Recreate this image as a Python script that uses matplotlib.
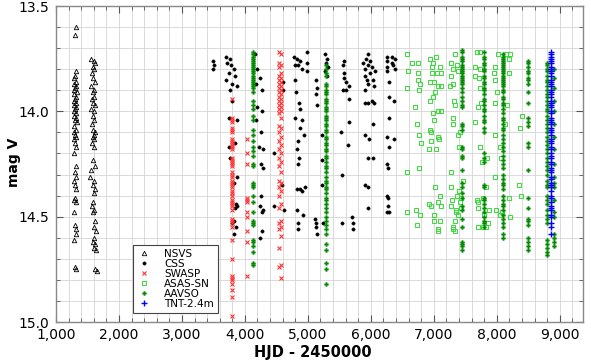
import matplotlib
matplotlib.use("Agg")
import matplotlib.pyplot as plt
from matplotlib.ticker import MultipleLocator, FuncFormatter

# ---------------- data (HJD - 2450000, V mag) ----------------
NSVS_HJD = [1310, 1300, 1320, 1300, 1290, 1310, 1280, 1320, 1300, 1290,
            1330, 1280, 1310, 1300, 1290, 1320, 1280, 1310, 1300, 1290,
            1320, 1280, 1310, 1300, 1330, 1290, 1310, 1280, 1300, 1320,
            1290, 1300, 1310, 1290, 1320, 1300, 1310, 1290, 1300, 1320,
            1300, 1290, 1310, 1290, 1300, 1320, 1310, 1290, 1300, 1310,
            1560, 1600, 1620, 1580, 1610, 1570, 1590, 1620, 1550, 1600,
            1580, 1610, 1570, 1590, 1620, 1560, 1600, 1580, 1610, 1570,
            1590, 1620, 1600, 1580, 1610, 1570, 1600, 1590, 1620, 1560,
            1540, 1600, 1580, 1620, 1600, 1590, 1570, 1610, 1580, 1620,
            1600, 1630, 1610, 1590, 1620, 1600, 1640, 1620, 1650]
NSVS_MAG = [13.60, 13.64, 13.81, 13.83, 13.84, 13.86, 13.87, 13.88, 13.89, 13.90,
            13.91, 13.92, 13.93, 13.94, 13.95, 13.96, 13.97, 13.98, 13.99, 14.00,
            14.01, 14.02, 14.03, 14.04, 14.05, 14.07, 14.09, 14.10, 14.11, 14.12,
            14.13, 14.15, 14.17, 14.20, 14.26, 14.29, 14.31, 14.33, 14.35, 14.37,
            14.41, 14.42, 14.43, 14.48, 14.54, 14.56, 14.58, 14.61, 14.74, 14.75,
            13.75, 13.76, 13.77, 13.79, 13.80, 13.82, 13.84, 13.86, 13.88, 13.90,
            13.91, 13.93, 13.94, 13.96, 13.97, 13.99, 14.00, 14.02, 14.04, 14.06,
            14.09, 14.10, 14.11, 14.12, 14.13, 14.15, 14.17, 14.23, 14.26, 14.28,
            14.31, 14.33, 14.35, 14.37, 14.39, 14.43, 14.45, 14.47, 14.48, 14.52,
            14.55, 14.57, 14.60, 14.62, 14.63, 14.65, 14.66, 14.75, 14.76]

CSS_HJD = [3500, 3510, 3500,
           3700, 3760, 3720, 3780, 3820, 3740, 3850, 3700, 3800, 3870,
           3760, 3800, 3740, 3880, 3850, 3740, 3760, 3870, 3820, 3860,
           3880, 3820, 3860, 3820, 3800, 3840,
           4160, 4200, 4240, 4180, 4270, 4190, 4270, 4170, 4250, 4230,
           4280, 4250, 4280, 4260, 4240, 4280, 4270, 4270, 4240,
           4460, 4470, 4600, 4610, 4590, 4620,
           4780, 4830, 4870, 4800, 4850, 4900, 4980, 4980, 4980, 4790,
           4810, 4860, 4880, 4790, 4900, 4880, 4940, 4850, 4830, 4860,
           4850, 4830, 4870, 4900, 4950, 4830, 4920, 4850, 4850,
           5130, 5140, 5130, 5140, 5120, 5130, 5130, 5140, 5230, 5220,
           5230, 5240, 5270, 5300, 5290, 5320, 5270, 5310,
           5580, 5560, 5580, 5570, 5600, 5650, 5560, 5610, 5650, 5650,
           5530, 5640, 5540, 5540, 5700, 5710, 5710,
           5950, 5920, 5990, 5880, 5960, 6020, 5900, 6060, 5990, 5910,
           5940, 6040, 5960, 5900, 6050, 5900, 5950, 6020, 6050, 6030,
           5900, 5970, 5950, 6030, 5900, 5950, 5950,
           6260, 6340, 6380, 6260, 6330, 6360, 6260, 6390, 6260, 6290,
           6290, 6370, 6290, 6260, 6370, 6290, 6260, 6280, 6260, 6280,
           6280, 6260, 6290]
CSS_MAG = [13.76, 13.78, 13.80,
           13.74, 13.75, 13.77, 13.78, 13.80, 13.82, 13.83, 13.85, 13.87, 13.88,
           13.90, 13.95, 14.03, 14.04, 14.15, 14.17, 14.22, 14.31, 14.34, 14.44,
           14.45, 14.52, 14.55, 14.58, 14.53, 14.46,
           13.73, 13.80, 13.84, 13.87, 13.90, 13.98, 14.00, 14.04, 14.10, 14.17,
           14.18, 14.25, 14.27, 14.40, 14.45, 14.47, 14.48, 14.57, 14.60,
           14.20, 14.45, 13.86, 13.90, 14.35, 14.47,
           13.74, 13.75, 13.76, 13.78, 13.78, 13.80, 13.72, 13.77, 13.81, 13.85,
           13.91, 13.96, 13.99, 14.03, 14.04, 14.08, 14.11, 14.14, 14.18, 14.22,
           14.25, 14.37, 14.37, 14.38, 14.36, 14.47, 14.49, 14.53, 14.56,
           13.85, 13.89, 13.92, 13.97, 14.51, 14.53, 14.55, 14.58, 14.11, 14.23,
           14.35, 14.53, 13.73, 13.75, 13.77, 13.79, 13.81, 13.83,
           13.76, 13.78, 13.82, 13.84, 13.86, 13.88, 13.90, 13.90, 13.94, 14.05,
           14.10, 14.16, 14.30, 14.53, 14.50, 14.53, 14.56,
           13.73, 13.75, 13.76, 13.77, 13.78, 13.79, 13.80, 13.81, 13.82, 13.83,
           13.85, 13.85, 13.87, 13.90, 13.88, 13.96, 13.96, 13.95, 13.96, 14.06,
           14.11, 14.13, 14.22, 14.22, 14.35, 14.36, 14.46,
           13.74, 13.74, 13.75, 13.76, 13.77, 13.78, 13.79, 13.80, 13.81, 13.86,
           13.93, 13.95, 14.03, 14.12, 14.13, 14.17, 14.25, 14.27, 14.40, 14.41,
           14.45, 14.48, 14.48]

SWASP_S1_HJD = 3800
SWASP_S1_MAG = [13.94, 14.03, 14.04, 14.05, 14.08, 14.09, 14.10, 14.13, 14.14, 14.15,
                14.16, 14.17, 14.18, 14.22, 14.23, 14.24, 14.25, 14.26, 14.29, 14.30,
                14.31, 14.33, 14.34, 14.35, 14.36, 14.38, 14.39, 14.40, 14.42, 14.43,
                14.44, 14.45, 14.47, 14.51, 14.52, 14.53, 14.55, 14.61, 14.70, 14.78,
                14.79, 14.80, 14.82, 14.85, 14.88, 14.97]
SWASP_S2_HJD = 4040
SWASP_S2_MAG = [14.13, 14.20, 14.25, 14.41, 14.42, 14.43, 14.48, 14.50, 14.57, 14.62, 14.78]
SWASP_S3A_HJD = 4540
SWASP_S3A_MAG = [13.72, 13.77, 13.79, 13.83, 13.85, 13.87, 13.89, 13.91, 13.93, 13.95,
                 13.97, 13.99, 14.01, 14.07, 14.10, 14.14, 14.18, 14.22, 14.26, 14.33,
                 14.36, 14.40, 14.46, 14.53, 14.56, 14.65, 14.74]
SWASP_S3B_HJD = 4570
SWASP_S3B_MAG = [13.73, 13.78, 13.82, 13.84, 13.86, 13.88, 13.90, 13.92, 13.94, 13.96,
                 13.98, 14.00, 14.03, 14.08, 14.12, 14.16, 14.20, 14.24, 14.29, 14.34,
                 14.38, 14.44, 14.52, 14.55, 14.59, 14.73, 14.79]

ASASSN_HJD = [6570, 6660, 6750, 6590, 6750, 6750, 6780, 6760, 6570, 6700,
              6730, 6760, 6790, 6570, 6760, 6570, 6780, 6730, 6720,
              6940, 7030, 6990, 6970, 7100, 6970, 7050, 7120, 6940, 7000,
              7070, 7120, 6940, 6990, 7020, 7070, 7110, 6980, 7000, 6940,
              6950, 7070, 7080, 6960, 6930, 7040, 7020, 7100, 7070, 6930,
              7110, 7000, 7000, 7100, 7070, 7060, 6960,
              7330, 7270, 7370, 7310, 7390, 7280, 7260, 7310, 7320, 7340,
              7310, 7310, 7390, 7420, 7400, 7270, 7270, 7360, 7380, 7330,
              7310, 7330, 7420, 7280, 7400, 7430, 7370, 7440, 7290, 7350,
              7460, 7300,
              7690, 7730, 7650, 7730, 7650, 7720, 7740, 7750, 7700, 7650,
              7740, 7760, 7850, 7700, 7710, 7825, 7780, 7700, 7690, 7800,
              7780, 7830, 7870, 7860,
              8020, 8150, 8210, 8190, 7970, 7960, 8190, 7980, 8000, 7970,
              8170, 8400, 8130, 8370, 7970, 8050, 8060, 7970, 8350, 8380,
              7990, 8080, 8190, 8210, 8050]
ASASSN_MAG = [13.73, 13.77, 13.77, 13.81, 13.82, 13.85, 13.87, 13.90, 13.89, 13.98,
              14.06, 14.11, 14.15, 14.29, 14.27, 14.48, 14.49, 14.54, 14.47,
              13.75, 13.74, 13.77, 13.79, 13.79, 13.82, 13.82, 13.82, 13.86, 13.86,
              13.88, 13.88, 13.95, 13.93, 13.91, 14.00, 14.00, 14.01, 14.04, 14.09,
              14.10, 14.12, 14.13, 14.14, 14.18, 14.18, 14.36, 14.40, 14.43, 14.44,
              14.45, 14.49, 14.52, 14.52, 14.56, 14.57, 14.45,
              13.73, 13.77, 13.78, 13.80, 13.81, 13.83, 13.88, 13.87, 13.95, 13.97,
              14.03, 14.06, 14.11, 14.10, 14.17, 14.29, 14.45, 14.48, 14.49, 14.52,
              14.56, 14.57, 14.43, 14.36, 14.38, 14.41, 14.40, 14.46, 14.42, 14.47,
              14.33, 14.55,
              13.72, 13.72, 13.79, 13.80, 13.83, 13.84, 13.89, 13.96, 13.98, 14.05,
              14.17, 14.24, 14.22, 14.43, 14.55, 14.36, 14.41, 14.46, 14.42, 14.49,
              14.55, 14.55, 14.47, 14.53,
              13.73, 13.73, 13.73, 13.75, 13.79, 13.82, 13.82, 13.85, 13.91, 13.96,
              13.97, 14.02, 14.06, 14.08, 14.11, 14.17, 14.22, 14.31, 14.35, 14.40,
              14.47, 14.48, 14.41, 14.50, 14.49]

AAVSO_S1_HJD = 4130
AAVSO_S1_MAG = [13.72, 13.73, 13.74, 13.75, 13.76, 13.77, 13.78, 13.79, 13.80, 13.81,
                13.82, 13.83, 13.84, 13.85, 13.86, 13.87, 13.88, 13.89, 13.91, 13.95,
                13.97, 13.99, 14.02, 14.04, 14.09, 14.11, 14.14, 14.17, 14.19, 14.21,
                14.25, 14.26, 14.34, 14.35, 14.36, 14.40, 14.43, 14.48, 14.52, 14.53,
                14.54, 14.61, 14.62, 14.64, 14.67, 14.72, 14.73]
AAVSO_S2_HJD = 5290
AAVSO_S2_MAG = [13.78, 13.80, 13.82, 13.83, 13.87, 13.88, 13.90, 13.91, 13.92, 13.94,
                13.95, 13.96, 13.98, 13.99, 14.00, 14.02, 14.03, 14.04, 14.06, 14.07,
                14.09, 14.10, 14.12, 14.13, 14.15, 14.16, 14.18, 14.19, 14.21, 14.22,
                14.24, 14.26, 14.27, 14.29, 14.31, 14.33, 14.34, 14.36, 14.37, 14.39,
                14.41, 14.42, 14.44, 14.46, 14.48, 14.50, 14.52, 14.54, 14.56, 14.58,
                14.63, 14.66, 14.72, 14.75, 14.82]
AAVSO_S3_HJD = 7450
AAVSO_S3_MAG = [13.71, 13.72, 13.74, 13.75, 13.76, 13.78, 13.79, 13.80, 13.81, 13.82,
                13.83, 13.84, 13.85, 13.86, 13.87, 13.89, 13.91, 13.93, 13.95, 13.97,
                13.98, 14.06, 14.07, 14.09, 14.17, 14.18, 14.21, 14.22, 14.28, 14.34,
                14.36, 14.39, 14.41, 14.45, 14.47, 14.51, 14.55, 14.62, 14.63, 14.64,
                14.66]
AAVSO_S4_HJD = 7800
AAVSO_S4_MAG = [13.72, 13.74, 13.75, 13.77, 13.78, 13.80, 13.81, 13.83, 13.84, 13.86,
                13.87, 13.89, 13.90, 13.92, 13.94, 13.95, 13.97, 13.99, 14.00, 14.02,
                14.04, 14.05, 14.08, 14.10, 14.20, 14.22, 14.24, 14.35, 14.36, 14.41,
                14.42, 14.44, 14.46, 14.48, 14.50, 14.52, 14.53, 14.55]
AAVSO_S5_HJD = 8100
AAVSO_S5_MAG = [13.73, 13.74, 13.75, 13.76, 13.77, 13.78, 13.79, 13.80, 13.81, 13.82,
                13.83, 13.84, 13.85, 13.86, 13.87, 13.88, 13.90, 13.91, 13.93, 13.94,
                13.96, 13.97, 13.99, 14.01, 14.03, 14.04, 14.06, 14.08, 14.09, 14.11,
                14.13, 14.15, 14.17, 14.19, 14.21, 14.23, 14.25, 14.27, 14.30, 14.32,
                14.34, 14.35, 14.37, 14.40, 14.42, 14.44, 14.45, 14.47, 14.49, 14.51,
                14.53, 14.55, 14.58, 14.60]
AAVSO_S6_HJD = 8500
AAVSO_S6_MAG = [13.76, 13.77, 13.79, 13.81, 13.82, 13.84, 13.85, 13.87, 13.91, 13.96,
                14.03, 14.05, 14.07, 14.15, 14.17, 14.28, 14.41, 14.46, 14.51, 14.52,
                14.54, 14.60, 14.62, 14.64, 14.66]
AAVSO_S7A_HJD = 8805
AAVSO_S7A_MAG = [13.77, 13.78, 13.80, 13.81, 13.83, 13.85, 13.86, 13.88, 13.90, 13.92,
                 13.93, 13.95, 13.97, 13.99, 14.00, 14.02, 14.04, 14.06, 14.08, 14.10,
                 14.12, 14.14, 14.16, 14.18, 14.20, 14.22, 14.24, 14.26, 14.28, 14.30,
                 14.33, 14.35, 14.36, 14.40, 14.42, 14.44, 14.47, 14.49, 14.51, 14.53,
                 14.61, 14.63, 14.65, 14.67, 14.68]
AAVSO_S7B_HJD = 8905
AAVSO_S7B_MAG = [13.80, 13.84, 13.89, 13.95, 14.00, 14.06, 14.12, 14.18, 14.25, 14.31,
                 14.34, 14.36, 14.42, 14.48, 14.50, 14.58, 14.60, 14.62, 14.64]

TNT_HJD = 8865
TNT_MAG = [13.72, 13.73, 13.74, 13.75, 13.76, 13.77, 13.79, 13.80, 13.81, 13.82,
           13.83, 13.85, 13.86, 13.87, 13.88, 13.90, 13.91, 13.92, 13.93, 13.95,
           13.96, 13.97, 13.98, 14.00, 14.01, 14.03, 14.04, 14.05, 14.06, 14.08,
           14.09, 14.10, 14.11, 14.13, 14.14, 14.15, 14.17, 14.18, 14.20, 14.21,
           14.22, 14.24, 14.25, 14.27, 14.28, 14.29, 14.31, 14.32, 14.34, 14.35,
           14.36, 14.38, 14.40, 14.41, 14.43, 14.45, 14.46, 14.47, 14.49, 14.50,
           14.53, 14.55, 14.58]

assert len(NSVS_HJD) == len(NSVS_MAG), (len(NSVS_HJD), len(NSVS_MAG))
assert len(CSS_HJD) == len(CSS_MAG), (len(CSS_HJD), len(CSS_MAG))
assert len(ASASSN_HJD) == len(ASASSN_MAG), (len(ASASSN_HJD), len(ASASSN_MAG))

# ---------------- build series ----------------
def column(hjd, mags):
    return [hjd] * len(mags), list(mags)

sw_x, sw_y = [], []
for h, m in [(SWASP_S1_HJD, SWASP_S1_MAG), (SWASP_S2_HJD, SWASP_S2_MAG),
             (SWASP_S3A_HJD, SWASP_S3A_MAG), (SWASP_S3B_HJD, SWASP_S3B_MAG)]:
    cx, cy = column(h, m); sw_x += cx; sw_y += cy

av_x, av_y = [], []
for h, m in [(AAVSO_S1_HJD, AAVSO_S1_MAG), (AAVSO_S2_HJD, AAVSO_S2_MAG),
             (AAVSO_S3_HJD, AAVSO_S3_MAG), (AAVSO_S4_HJD, AAVSO_S4_MAG),
             (AAVSO_S5_HJD, AAVSO_S5_MAG), (AAVSO_S6_HJD, AAVSO_S6_MAG),
             (AAVSO_S7A_HJD, AAVSO_S7A_MAG), (AAVSO_S7B_HJD, AAVSO_S7B_MAG)]:
    cx, cy = column(h, m); av_x += cx; av_y += cy

tnt_x, tnt_y = column(TNT_HJD, TNT_MAG)

# ---------------- figure ----------------
plt.rcParams['font.family'] = ['DejaVu Sans']
fig = plt.figure(figsize=(5.91, 3.62), dpi=100)
ax = fig.add_axes([56/591, 1-322/362, (583-56)/591, (322-6)/362])

ax.plot(NSVS_HJD, NSVS_MAG, ls='none', marker='^', ms=3.2, mfc='none',
        mec='black', mew=0.6, label='NSVS', zorder=3)
ax.plot(CSS_HJD, CSS_MAG, ls='none', marker='o', ms=2.4, mfc='black',
        mec='black', mew=0.3, label='CSS', zorder=3)
ax.plot(sw_x, sw_y, ls='none', marker='x', ms=2.8, color='#ff3333',
        mew=0.8, label='SWASP', zorder=3)
ax.plot(ASASSN_HJD, ASASSN_MAG, ls='none', marker='s', ms=3.2, mfc='none',
        mec='#33dd33', mew=0.7, label='ASAS-SN', zorder=3)
ax.plot(av_x, av_y, ls='none', marker='P', ms=3.0, mfc='#008a00',
        mec='#008a00', mew=0.2, label='AAVSO', zorder=4)
ax.plot(tnt_x, tnt_y, ls='none', marker='+', ms=3.8, color='#0000ff',
        mew=1.0, label='TNT-2.4m', zorder=5)

ax.set_xlim(1000, 9370)
ax.set_ylim(15.0, 13.5)
ax.xaxis.set_major_locator(MultipleLocator(1000))
ax.xaxis.set_minor_locator(MultipleLocator(200))
ax.yaxis.set_major_locator(MultipleLocator(0.5))
ax.yaxis.set_minor_locator(MultipleLocator(0.1))
ax.xaxis.set_major_formatter(FuncFormatter(lambda v, p: f"{v:,.0f}"))
ax.yaxis.set_major_formatter(FuncFormatter(lambda v, p: f"{v:.1f}"))

ax.grid(True, which='both', color='#d4d4d4', lw=0.6, zorder=0)
ax.set_axisbelow(True)
ax.tick_params(which='both', direction='in', top=True, right=True,
               colors='#555555', labelcolor='black', labelsize=10)
ax.tick_params(which='major', length=5, width=0.8)
ax.tick_params(which='minor', length=3, width=0.6)
ax.tick_params(axis='x', which='major', pad=4)
ax.tick_params(axis='y', which='major', pad=5)
for s in ax.spines.values():
    s.set_color('#888888')
    s.set_linewidth(1.0)

ax.set_xlabel('HJD - 2450000', fontsize=10.5, fontweight='bold', va='center')
ax.set_ylabel('mag V', fontsize=10, fontweight='bold', va='center')
ax.xaxis.set_label_coords((313 - 56) / 527, (322 - 352) / 316)
ax.yaxis.set_label_coords((14 - 56) / 527, (322 - 162) / 316)

leg = ax.legend(loc='lower left', bbox_to_anchor=(0.146, 0.028), fontsize=7.5,
                frameon=True, fancybox=False, framealpha=1, edgecolor='#444444',
                borderpad=0.4, labelspacing=0.0, handlelength=1.3,
                handletextpad=1.3, borderaxespad=0)
leg.get_frame().set_linewidth(0.8)

fig.savefig('out.png', dpi=100)
